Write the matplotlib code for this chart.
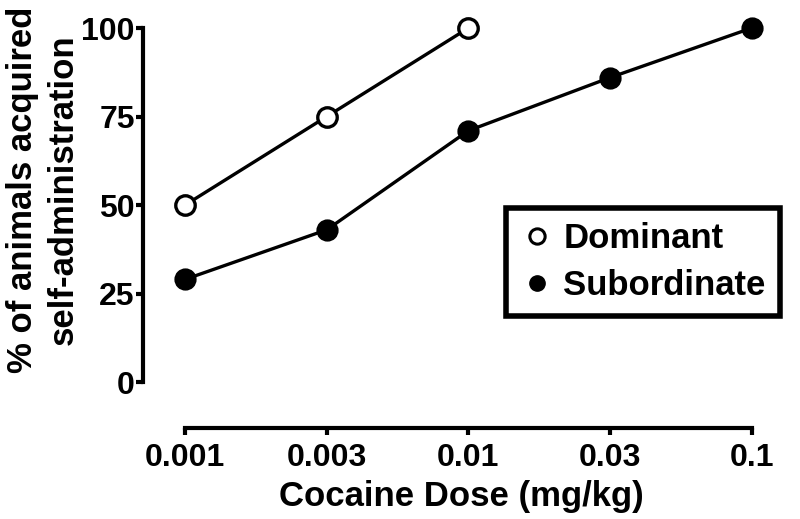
import matplotlib
matplotlib.use("Agg")
import matplotlib.pyplot as plt
from matplotlib.lines import Line2D

# data
doses = ["0.001", "0.003", "0.01", "0.03", "0.1"]
dominant = [50, 75, 100]
subordinate = [29, 43, 71, 86, 100]
y_ticks = [0, 25, 50, 75, 100]

plt.rcParams['font.family'] = ['Liberation Sans', 'DejaVu Sans']
plt.rcParams['font.weight'] = 'bold'

fig = plt.figure(figsize=(8, 5.19), dpi=100)
ax = fig.add_axes([0.179, 0.1753, 0.796, 0.7707])

x_dom = list(range(len(dominant)))
x_sub = list(range(len(subordinate)))

ax.plot(x_sub, subordinate, color="black", lw=2.4, marker="o", ms=14,
        mfc="black", mec="black", mew=2, clip_on=False, zorder=3)
ax.plot(x_dom, dominant, color="black", lw=2.4, marker="o", ms=14,
        mfc="white", mec="black", mew=2.4, clip_on=False, zorder=4)

# axes settings (GraphPad-like detached spines)
ax.set_xlim(-0.296, 4.2)
ax.set_ylim(-13, 100)
for s in ["top", "right"]:
    ax.spines[s].set_visible(False)
ax.spines["left"].set_bounds(0, 100)
ax.spines["bottom"].set_bounds(0, 4)
ax.spines["left"].set_linewidth(3)
ax.spines["bottom"].set_linewidth(3)

ax.set_yticks(y_ticks)
ax.set_yticklabels([str(v) for v in y_ticks])
ax.set_xticks(x_sub)
ax.set_xticklabels(doses)
ax.tick_params(axis="y", direction="out", length=5, width=3, labelsize=23, pad=1)
ax.tick_params(axis="x", direction="out", length=5, width=3, labelsize=23, pad=6)

ax.set_xlabel("Cocaine Dose (mg/kg)", fontsize=25, fontweight="bold", labelpad=5)
ax.set_ylabel("% of animals acquired\nself-administration", fontsize=25,
              fontweight="bold", linespacing=1.3)
ax.yaxis.set_label_coords(-0.1, 0.595)

# legend (marker only handles)
h_dom = Line2D([], [], ls="none", marker="o", ms=11, mfc="white", mec="black", mew=2.2)
h_sub = Line2D([], [], ls="none", marker="o", ms=11, mfc="black", mec="black")
leg = ax.legend([h_dom, h_sub], ["Dominant", "Subordinate"], loc="upper left",
                bbox_to_anchor=(0.57, 0.55), fontsize=25, handlelength=1.0,
                handletextpad=0.25, borderpad=0.4, labelspacing=0.4,
                fancybox=False, framealpha=1, borderaxespad=0)
leg.get_frame().set_edgecolor("black")
leg.get_frame().set_linewidth(4)

plt.savefig("out.png", dpi=100)
